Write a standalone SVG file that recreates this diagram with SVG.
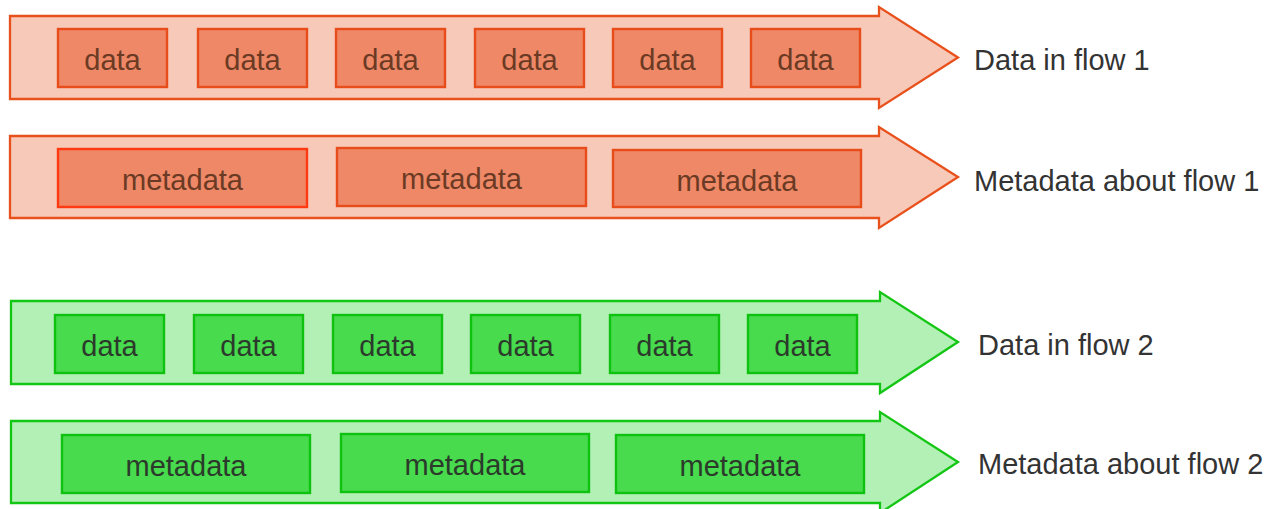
<svg xmlns="http://www.w3.org/2000/svg" width="1270" height="509" viewBox="0 0 1270 509">
<style>
text { font-family: "Liberation Sans", Arial, sans-serif; font-size: 29px; }
.oa { fill: #f7c9b9; stroke: #e8501c; stroke-width: 2.3; }
.ob { fill: #ee8866; stroke: #e84c1a; stroke-width: 2.4; }
.ob2 { fill: #ee8866; stroke: #ff3a12; stroke-width: 2.4; }
.ga { fill: #b3f0b6; stroke: #14c614; stroke-width: 2.3; }
.gb { fill: #47db4d; stroke: #10c210; stroke-width: 2.4; }
.ot { fill: #6b3a24; text-anchor: middle; }
.gt { fill: #2c3a2c; text-anchor: middle; }
.lbl { fill: #333333; }
</style>
<g id="connectors">
  <path id="flow1-data" class="oa" d="M10,16 H879 V7 L958,57.5 L879,108 V99 H10 Z"/>
  <path id="flow1-meta" class="oa" d="M10,136 H879 V127 L958,177 L879,228 V218 H10 Z"/>
  <path id="flow2-data" class="ga" d="M11,301 H880 V292 L958,342 L880,393 V384 H11 Z"/>
  <path id="flow2-meta" class="ga" d="M11,421 H880 V412 L958,462 L880,513 V503 H11 Z"/>
</g>
<g id="row1">
  <g id="d1-1"><rect class="ob" x="58" y="29" width="109" height="58"/><text class="ot" x="112.5" y="69.5">data</text></g>
  <g id="d1-2"><rect class="ob" x="198" y="29" width="109" height="58"/><text class="ot" x="252.5" y="69.5">data</text></g>
  <g id="d1-3"><rect class="ob" x="336" y="29" width="109" height="58"/><text class="ot" x="390.5" y="69.5">data</text></g>
  <g id="d1-4"><rect class="ob" x="475" y="29" width="109" height="58"/><text class="ot" x="529.5" y="69.5">data</text></g>
  <g id="d1-5"><rect class="ob" x="613" y="29" width="109" height="58"/><text class="ot" x="667.5" y="69.5">data</text></g>
  <g id="d1-6"><rect class="ob" x="751" y="29" width="109" height="58"/><text class="ot" x="805.5" y="69.5">data</text></g>
</g>
<g id="row2">
  <g id="m1-1"><rect class="ob2" x="58" y="149" width="249" height="58"/><text class="ot" x="182.5" y="189.5">metadata</text></g>
  <g id="m1-2"><rect class="ob" x="337" y="148" width="249" height="58"/><text class="ot" x="461.5" y="188.5">metadata</text></g>
  <g id="m1-3"><rect class="ob" x="613" y="150" width="248" height="57"/><text class="ot" x="737" y="190.5">metadata</text></g>
</g>
<g id="row3">
  <g id="d2-1"><rect class="gb" x="55" y="315" width="109" height="58"/><text class="gt" x="109.5" y="355.5">data</text></g>
  <g id="d2-2"><rect class="gb" x="194" y="315" width="109" height="58"/><text class="gt" x="248.5" y="355.5">data</text></g>
  <g id="d2-3"><rect class="gb" x="333" y="315" width="109" height="58"/><text class="gt" x="387.5" y="355.5">data</text></g>
  <g id="d2-4"><rect class="gb" x="471" y="315" width="109" height="58"/><text class="gt" x="525.5" y="355.5">data</text></g>
  <g id="d2-5"><rect class="gb" x="610" y="315" width="109" height="58"/><text class="gt" x="664.5" y="355.5">data</text></g>
  <g id="d2-6"><rect class="gb" x="748" y="315" width="109" height="58"/><text class="gt" x="802.5" y="355.5">data</text></g>
</g>
<g id="row4">
  <g id="m2-1"><rect class="gb" x="62" y="435" width="248" height="58"/><text class="gt" x="186" y="475.5">metadata</text></g>
  <g id="m2-2"><rect class="gb" x="341" y="434" width="248" height="58"/><text class="gt" x="465" y="474.5">metadata</text></g>
  <g id="m2-3"><rect class="gb" x="616" y="435" width="248" height="58"/><text class="gt" x="740" y="475.5">metadata</text></g>
</g>
<g id="labels">
  <text class="lbl" x="974" y="70">Data in flow 1</text>
  <text class="lbl" x="974" y="190.5">Metadata about flow 1</text>
  <text class="lbl" x="978" y="354.5">Data in flow 2</text>
  <text class="lbl" x="978" y="473.5">Metadata about flow 2</text>
</g>
</svg>
